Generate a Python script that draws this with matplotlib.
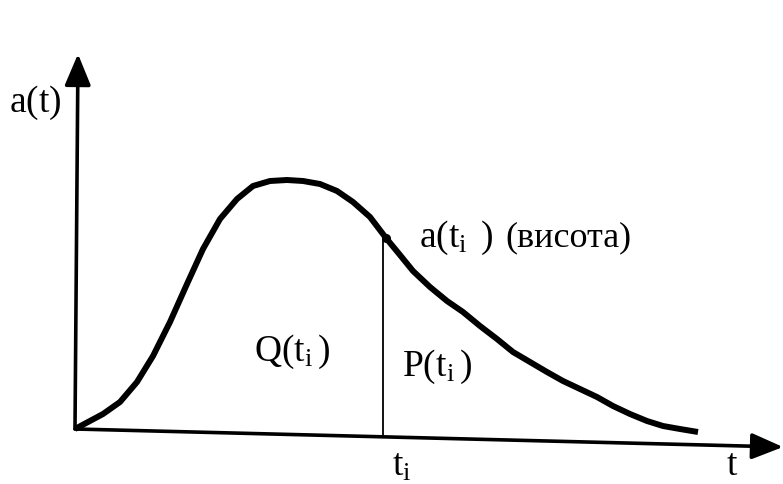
import matplotlib.pyplot as plt
from matplotlib.patches import FancyArrowPatch

plt.rcParams['font.family'] = ['Liberation Serif', 'DejaVu Serif']
plt.rcParams['mathtext.fontset'] = 'custom'
plt.rcParams['mathtext.rm'] = 'Liberation Serif'
plt.rcParams['mathtext.it'] = 'Liberation Serif'

# curve a(t), in drawing units (x right, y down)
curve_x = [75, 88, 103, 120, 137, 153, 170, 187, 203, 220, 237, 253, 270,
           287, 303, 320, 337, 353, 370, 386, 400, 413, 430, 447, 463, 480,
           497, 513, 530, 547, 563, 580, 597, 613, 630, 647, 663, 680, 698]
curve_y = [430, 423, 415, 403, 383, 357, 323, 285, 250, 220, 200, 187, 182,
           181, 182, 185, 192, 203, 218, 239, 256, 272, 288, 302, 313, 327,
           340, 353, 363, 373, 382, 390, 398, 407, 415, 422, 427, 430, 433]
point_idx = 19

origin = (75, 430)
x_tip = (783, 448)
y_tip = (78, 55)
t_i = 383
t_i_base = 437

fig = plt.figure(figsize=(7.83, 4.85), dpi=100)
ax = fig.add_axes([0, 0, 1, 1])
ax.set_xlim(0, 783)
ax.set_ylim(485, 0)
ax.axis('off')

for tip in (x_tip, y_tip):
    ax.add_patch(FancyArrowPatch(origin, tip, arrowstyle='-|>,head_length=12,head_width=5',
                                 mutation_scale=1.6, lw=2.6, color='black',
                                 shrinkA=0, shrinkB=0))

ax.plot(curve_x, curve_y, color='black', lw=4.3, solid_capstyle='butt',
        solid_joinstyle='round')
ax.plot([t_i, t_i], [curve_y[point_idx], t_i_base], color='black', lw=1.3)
ax.plot([curve_x[point_idx]], [curve_y[point_idx]], 'o', color='black', ms=5.5)

fs = 27
ax.text(9, 103, r'$\mathrm{a(t)}$', fontsize=fs, va='center')
ax.text(419, 238, r'$\mathrm{a(t_i\,\;)}$', fontsize=fs, va='center')
ax.text(505, 238, '(висота)', fontsize=26, va='center')
ax.text(254, 352, r'$\mathrm{Q(t_i\,)}$', fontsize=fs, va='center')
ax.text(402, 367, r'$\mathrm{P(t_i\,)}$', fontsize=fs, va='center')
ax.text(392, 466, r'$\mathrm{t_i}$', fontsize=fs, va='center')
ax.text(726, 466, r'$\mathrm{t}$', fontsize=fs, va='center')

fig.savefig('out.png', dpi=100)
